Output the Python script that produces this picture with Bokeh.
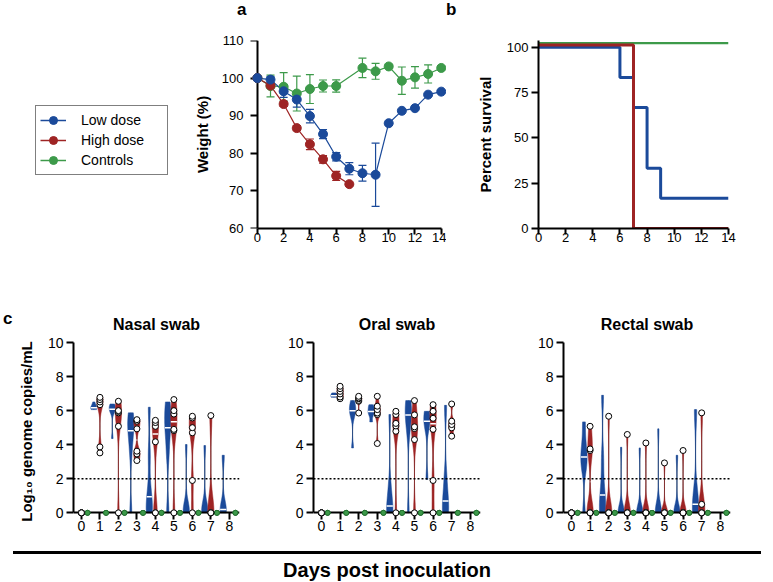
import numpy as np
from bokeh.plotting import figure
from bokeh.models import (ColumnDataSource, Whisker, TeeHead, Legend, LegendItem,
                          Span, FixedTicker, Div, Range1d, LinearAxis)
from bokeh.layouts import column, row
from bokeh.embed import file_html
from bokeh.resources import INLINE

FONT = "Liberation Sans"
BLUE = "#1b4a9a"
RED = "#9e2424"
GREEN = "#3d9a4a"

# ---------------- Panel a: weight (%) ----------------
weight_days_low = [0, 1, 2, 3, 4, 5, 6, 7, 8, 9, 10, 11, 12, 13, 14]
weight_low = [100, 99.6, 96.5, 94.3, 89.9, 85.1, 79.1, 75.9, 74.7, 74.3, 88.0, 91.3, 92.0, 95.6, 96.4]
weight_low_sem = [0, 0.8, 1.6, 2.0, 1.8, 1.2, 1.1, 1.6, 2.1, 8.4, 0, 0, 0, 0, 0]
weight_days_high = [0, 1, 2, 3, 4, 5, 6, 7]
weight_high = [100, 98.0, 93.1, 86.7, 82.4, 78.4, 74.0, 71.8]
weight_high_sem = [0, 0.6, 0.6, 0.7, 1.4, 1.0, 1.2, 0]
weight_days_ctrl = [0, 1, 2, 3, 4, 5, 6, 8, 9, 10, 11, 12, 13, 14]
weight_ctrl = [100, 97.9, 97.7, 95.9, 97.1, 97.9, 97.9, 102.7, 101.8, 103.1, 99.3, 100.2, 101.1, 102.7]
weight_ctrl_sem = [0, 2.9, 3.75, 4.65, 3.85, 1.6, 1.65, 2.6, 2.1, 0.5, 3.65, 2.85, 2.4, 0.5]

# ---------------- Panel b: survival ----------------
surv_days_low = [0, 6, 7, 8, 9, 14]
surv_low = [100, 83.3, 66.7, 33.3, 16.7, 16.7]
surv_days_high = [0, 7, 14]
surv_high = [100, 0, 0]
surv_days_ctrl = [0, 14]
surv_ctrl = [100, 100]

# ---------------- Panel c: log10 genome copies/mL ----------------
days_c = [0, 1, 2, 3, 4, 5, 6, 7, 8]
nasal_low = [
    [0, 0, 0, 0, 0, 0],
    [6.06, 6.10, 6.15, 6.18, 6.30, 6.51],
    [4.36, 5.95, 6.05, 6.10, 6.30, 6.39],
    [0, 3.6, 4.7, 4.95, 5.6, 5.87],
    [0, 0, 0.5, 1.4, 3.4, 6.2],
    [0, 3.5, 4.8, 5.2, 6.0, 6.51],
    [0, 0, 0, 0.4, 4.01],
    [0, 0, 0, 0.5, 3.95],
    [0, 0, 0.4, 3.38],
]
nasal_high = [
    [0, 0, 0, 0, 0, 0],
    [3.52, 3.87, 6.35, 6.51, 6.65, 6.78],
    [0, 5.08, 5.87, 5.95, 6.0, 6.55],
    [3.07, 3.46, 3.62, 4.93, 5.38, 5.47],
    [0, 0, 4.17, 5.08, 5.3, 5.43],
    [0, 4.83, 4.9, 5.8, 6.0, 6.65],
    [0, 1.9, 4.7, 5.0, 5.57, 5.67],
    [0, 0, 0, 5.71],
    [],
]
nasal_ctrl = [[0, 0, 0], [0, 0, 0], [0, 0, 0], [0, 0, 0], [0, 0, 0],
              [0, 0, 0], [0, 0, 0], [0, 0, 0], [0, 0, 0]]
oral_low = [
    [0, 0, 0, 0, 0, 0],
    [6.78, 6.80, 6.85, 6.90, 6.95, 7.04],
    [3.81, 5.6, 5.95, 6.05, 6.3, 6.59],
    [5.34, 5.7, 5.9, 6.0, 6.2, 6.35],
    [0, 0, 0, 0.8, 1.6, 5.77],
    [0, 4.8, 5.5, 6.0, 6.3, 6.59],
    [1.96, 5.0, 5.38, 5.7, 5.96],
    [0, 0, 0.7, 2.0, 6.31],
    [0, 0, 0, 0],
]
oral_high = [
    [0, 0, 0, 0, 0, 0],
    [6.7, 6.8, 6.98, 7.13, 7.29, 7.43],
    [5.86, 6.55, 6.6, 6.7, 6.74, 6.84],
    [4.07, 5.77, 5.86, 6.06, 6.26, 6.84],
    [0, 4.79, 5.1, 5.25, 5.77, 5.96],
    [0, 4.3, 4.95, 5.05, 5.75, 6.59],
    [0, 1.9, 4.9, 5.55, 5.96, 6.35],
    [4.5, 4.99, 5.18, 5.38, 6.39],
    [],
]
oral_ctrl = [[0, 0, 0], [0, 0, 0], [0, 0, 0], [0, 0, 0], [0, 0, 0],
             [0, 0, 0], [0, 0, 0], [0, 0, 0], [0, 0, 0]]
rectal_low = [
    [0, 0, 0, 0, 0, 0],
    [0, 2.5, 3.1, 3.45, 4.2, 5.34],
    [0, 0, 0.6, 1.5, 3.2, 6.9],
    [0, 0, 0, 0, 0, 3.85],
    [0, 0, 0, 0, 0, 3.81],
    [0, 0, 0, 0, 0, 4.93],
    [0, 0, 0, 0, 3.38],
    [0, 0, 1.0, 6.06],
    [0, 0, 0, 0],
]
rectal_high = [
    [0, 0, 0, 0, 0, 0],
    [0, 0, 0, 3.66, 3.75, 5.08],
    [0, 0, 0, 0, 0, 5.67],
    [0, 0, 0, 0, 0, 4.6],
    [0, 0, 0, 0, 0, 4.1],
    [0, 0, 0, 0, 0, 2.93],
    [0, 0, 0, 0, 0, 3.66],
    [0, 0, 0, 0.5, 5.87],
    [],
]
rectal_ctrl = [[0, 0, 0], [0, 0, 0], [0, 0, 0], [0, 0, 0], [0, 0, 0],
               [0, 0, 0], [0, 0, 0], [0, 0, 0], [0, 0, 0]]


def style(p, tick_fs, tick_out=7, label_standoff=4):
    for ax in p.axis:
        ax.axis_line_width = 2
        ax.axis_line_color = "black"
        ax.major_tick_line_width = 2
        ax.major_tick_line_color = "black"
        ax.major_tick_out = tick_out
        ax.major_tick_in = 0
        ax.minor_tick_line_color = None
        ax.major_label_text_font = FONT
        ax.major_label_text_font_size = tick_fs
        ax.major_label_text_color = "black"
        ax.major_label_standoff = label_standoff
        ax.axis_label_text_font = FONT
        ax.axis_label_text_font_style = "bold"
        ax.axis_label_text_font_size = "15px"
        ax.axis_label_text_color = "black"
    p.xgrid.visible = False
    p.ygrid.visible = False
    p.outline_line_color = None
    p.background_fill_color = "white"
    p.border_fill_color = "white"


def labels_only(ax, standoff):
    ax.axis_line_color = None
    ax.major_tick_line_color = None
    ax.major_tick_out = 0
    ax.major_label_standoff = standoff


def line_axis(ticks, tick_out, **kw):
    return LinearAxis(ticker=FixedTicker(ticks=ticks), axis_line_width=2, axis_line_color="black",
                      major_tick_line_width=2, major_tick_line_color="black",
                      major_tick_out=tick_out, major_tick_in=0, minor_tick_line_color=None,
                      major_label_text_font_size="1px", major_label_text_color=None,
                      major_label_standoff=0, **kw)


# ---------------- header with panel letters a / b ----------------
header = Div(text=('<div style="position:relative; height:20px; font-family:\'Liberation Sans\'; '
                   'font-weight:bold; font-size:17px; line-height:20px; color:#000;">'
                   '<span style="position:absolute; left:237px; top:0px;">a</span>'
                   '<span style="position:absolute; left:446px; top:0px;">b</span></div>'),
             width=765, height=20, margin=0)

# ---------------- Legend figure ----------------
lf = figure(width=180, height=242, x_range=(0, 1), y_range=(0, 1), x_axis_type=None,
            y_axis_type=None, output_backend="svg", toolbar_location=None,
            min_border_left=0, min_border_top=20, min_border_right=0, min_border_bottom=34)
lf.xgrid.visible = False
lf.ygrid.visible = False
lf.outline_line_color = None
items = []
for lab, col in [("Low dose", BLUE), ("High dose", RED), ("Controls", GREEN)]:
    rl = lf.line([np.nan], [np.nan], line_color=col, line_width=1.5)
    rs = lf.scatter([np.nan], [np.nan], fill_color=col, line_color=col, size=9)
    items.append(LegendItem(label=lab, renderers=[rl, rs]))
leg = Legend(items=items, location=(35, 53), border_line_color="black", border_line_width=1.5,
             label_text_font=FONT, label_text_font_size="14px", glyph_width=26, glyph_height=20,
             label_standoff=15, label_width=82, spacing=0, padding=4, margin=0,
             label_text_color="black", background_fill_color="white")
lf.add_layout(leg)

# ---------------- Panel a ----------------
fa = figure(width=266, height=242, x_range=Range1d(-0.6, 14.4), y_range=Range1d(60, 110),
            output_backend="svg", toolbar_location=None,
            min_border_left=69, min_border_right=0, min_border_top=20, min_border_bottom=34)
style(fa, "13px", tick_out=6, label_standoff=-2)
fa.xaxis.bounds = (0, 14)
fa.xaxis.ticker = FixedTicker(ticks=[0, 2, 4, 6, 8, 10, 12, 14])
fa.yaxis.ticker = FixedTicker(ticks=[60, 70, 80, 90, 100, 110])
labels_only(fa.yaxis[0], 6)
fa.yaxis.axis_label = "Weight (%)"
fa.yaxis.axis_label_standoff = 8
fa.add_layout(line_axis([60, 70, 80, 90, 100, 110], 7, fixed_location=0, bounds=(60, 110)), "left")

for d, v, e, col in [(weight_days_ctrl, weight_ctrl, weight_ctrl_sem, GREEN),
                     (weight_days_high, weight_high, weight_high_sem, RED),
                     (weight_days_low, weight_low, weight_low_sem, BLUE)]:
    v = np.array(v, float)
    e = np.array(e, float)
    d = np.array(d, float)
    m = e > 0
    wsrc = ColumnDataSource(dict(x=d[m], upper=v[m] + e[m], lower=v[m] - e[m]))
    fa.add_layout(Whisker(source=wsrc, base="x", upper="upper", lower="lower", line_color=col,
                          line_width=1.2,
                          upper_head=TeeHead(size=8, line_color=col, line_width=1.2),
                          lower_head=TeeHead(size=8, line_color=col, line_width=1.2)))
    fa.line(d, v, line_color=col, line_width=1.2)
    r = fa.scatter(d, v, size=9, fill_color=col, line_color=col)
    r.level = "overlay"

# ---------------- Panel b ----------------
fb = figure(width=302, height=242, x_range=Range1d(0, 14), y_range=Range1d(0, 103.7),
            output_backend="svg", toolbar_location=None,
            min_border_left=92, min_border_right=20, min_border_top=20, min_border_bottom=34)
style(fb, "13px", tick_out=7, label_standoff=3)
fb.xaxis.ticker = FixedTicker(ticks=[0, 2, 4, 6, 8, 10, 12, 14])
fb.yaxis.ticker = FixedTicker(ticks=[0, 25, 50, 75, 100])
fb.xaxis.major_tick_out = 6
fb.xaxis.major_label_standoff = -2
fb.yaxis.axis_label = "Percent survival"
fb.yaxis.axis_label_standoff = 10
# small vertical display offsets keep overlapping curves visible (style only)
for d, v, col, lw, off in [(surv_days_ctrl, surv_ctrl, GREEN, 2.2, 2.2),
                           (surv_days_low, surv_low, BLUE, 3, 0.0),
                           (surv_days_high, surv_high, RED, 3, 1.2)]:
    y = np.array(v, float) + np.where(np.array(v) > 0, off, 0)
    fb.step(d, y, mode="after", line_color=col, line_width=lw)


# ---------------- Panel c ----------------
def violin_shape(values, center, half=0.17, factor=0.45, npts=90):
    v = np.asarray(values, float)
    lo, hi = v.min(), v.max()
    if hi - lo < 1e-9:
        return None
    std = v.std(ddof=1)
    bw = max(0.15, factor * std * len(v) ** -0.2)
    ys = np.linspace(lo, hi, npts)
    dens = np.exp(-0.5 * ((ys[:, None] - v[None, :]) / bw) ** 2).sum(1)
    hw = half * dens / dens.max()
    xs = np.concatenate([center - hw, (center + hw)[::-1]])
    yy = np.concatenate([ys, ys[::-1]])
    med = float(np.median(v))
    hwm = float(np.interp(med, ys, hw))
    return xs, yy, med, hwm, lo, hi


def swab_panel(title, low, high, ctrl, width, ml, ylabel=None):
    p = figure(width=width, height=286, x_range=Range1d(-0.43, 8.55),
               y_range=Range1d(-0.45, 10), output_backend="svg", toolbar_location=None,
               title=title, min_border_left=ml, min_border_right=20, min_border_top=80,
               min_border_bottom=28)
    style(p, "14px", tick_out=7, label_standoff=3)
    p.title.align = "center"
    p.title.text_font = FONT
    p.title.text_font_style = "bold"
    p.title.text_font_size = "16px"
    p.title.text_color = "black"
    p.title.standoff = 20
    p.yaxis.bounds = (0, 10)
    p.xaxis.ticker = FixedTicker(ticks=days_c)
    p.yaxis.ticker = FixedTicker(ticks=[0, 2, 4, 6, 8, 10])
    labels_only(p.xaxis[0], 0)
    p.add_layout(line_axis(days_c, 7, fixed_location=0), "below")
    if ylabel:
        p.yaxis.axis_label = ylabel
        p.yaxis.axis_label_standoff = 10
    p.add_layout(Span(location=2, dimension="width", line_color="black", line_width=1.3,
                      line_dash="2 2"))

    px, py, mx0, mx1, my = [], [], [], [], []
    cols = []
    gx0, gy0, gy1 = [], [], []
    for group, off, col in [(low, -0.33, BLUE), (high, 0.0, RED)]:
        for d, vals in zip(days_c, group):
            if len(vals) == 0:
                continue
            res = violin_shape(vals, d + off)
            if res is None:
                continue
            xs, yy, med, hwm, lo, hi = res
            px.append(xs)
            py.append(yy)
            cols.append(col)
            mx0.append(d + off - hwm)
            mx1.append(d + off + hwm)
            my.append(med)
            gx0.append(d + off)
            gy0.append(lo)
            gy1.append(hi)
    p.segment(x0=gx0, x1=gx0, y0=gy0, y1=gy1, line_color="#555555", line_width=1)
    p.patches(xs=px, ys=py, fill_color=cols, line_color=cols, line_width=0.5)
    p.segment(x0=mx0, x1=mx1, y0=my, y1=my, line_color="white", line_width=1.5)

    cx, cy = [], []
    for d, vals in zip(days_c, ctrl):
        for v in vals:
            cx.append(d + 0.33)
            cy.append(v)
    r = p.scatter(cx, cy, size=5, fill_color=GREEN, line_color="#1f6a2c", line_width=0.8)
    r.level = "overlay"
    hx, hy = [], []
    for d, vals in zip(days_c, high):
        for v in vals:
            hx.append(d)
            hy.append(v)
    r = p.scatter(hx, hy, size=6, fill_color="white", line_color="black", line_width=1)
    r.level = "overlay"
    return p


c_div = Div(text=('<div style="font-family:\'Liberation Sans\'; font-weight:bold; '
                  'font-size:17px; line-height:20px; margin-top:47px; margin-left:3px; '
                  'color:#000;">c</div>'), width=14, height=286, margin=0)
pn = swab_panel("Nasal swab", nasal_low, nasal_high, nasal_ctrl, 245, 58,
                ylabel="Log\u2081\u2080 genome copies/mL")
po = swab_panel("Oral swab", oral_low, oral_high, oral_ctrl, 241, 54)
pr = swab_panel("Rectal swab", rectal_low, rectal_high, rectal_ctrl, 250, 63)

bottom = Div(text=('<div style="border-top:3.5px solid #000; margin-top:3px; margin-left:13px; '
                   'width:748px; text-align:center; font-family:\'Liberation Sans\'; '
                   'font-weight:bold; font-size:20px; padding-top:5px; color:#000; '
                   'line-height:22px;">Days post inoculation</div>'),
             width=765, height=33, margin=0)

layout = column(header, row(lf, fa, fb), row(c_div, pn, po, pr), bottom)
open("out.html", "w").write(file_html(layout, INLINE))
